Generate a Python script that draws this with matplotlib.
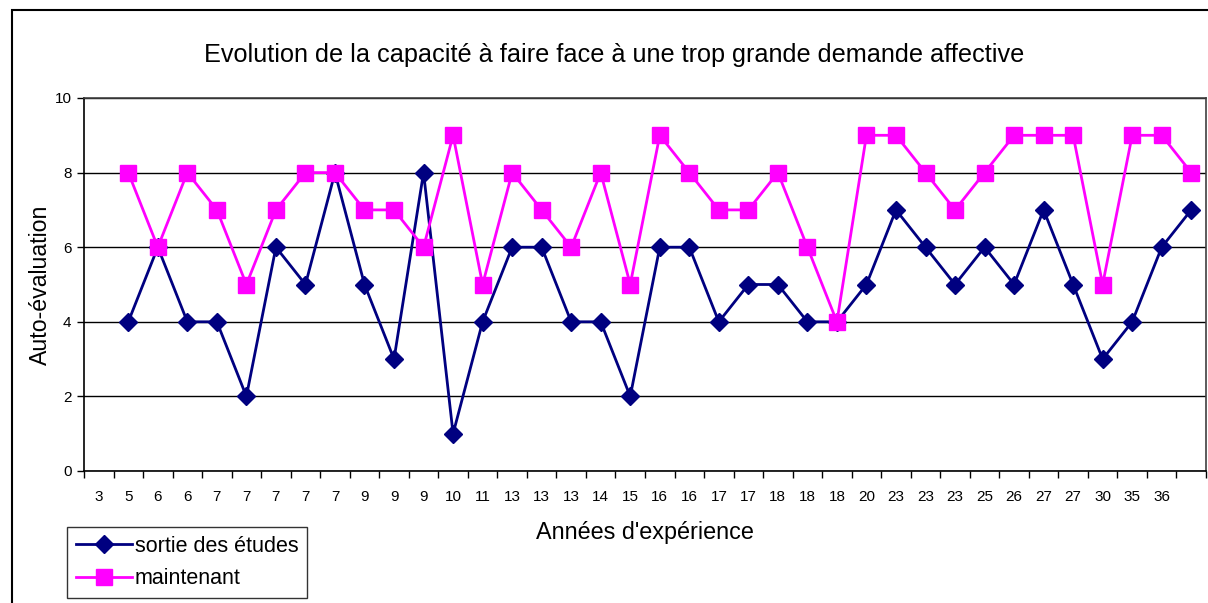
import matplotlib
matplotlib.use("Agg")
import matplotlib.pyplot as plt
import numpy as np
from matplotlib.patches import Rectangle

categories = ["3", "5", "6", "6", "7", "7", "7", "7", "7", "9", "9", "9", "10", "11",
              "13", "13", "13", "14", "15", "16", "16", "17", "17", "18", "18", "18",
              "20", "23", "23", "23", "25", "26", "27", "27", "30", "35", "36", ""]
sortie = [np.nan, 4, 6, 4, 4, 2, 6, 5, 8, 5, 3, 8, 1, 4, 6, 6, 4, 4, 2, 6, 6, 4, 5, 5,
          4, 4, 5, 7, 6, 5, 6, 5, 7, 5, 3, 4, 6, 7]
maintenant = [np.nan, 8, 6, 8, 7, 5, 7, 8, 8, 7, 7, 6, 9, 5, 8, 7, 6, 8, 5, 9, 8, 7, 7,
              8, 6, 4, 9, 9, 8, 7, 8, 9, 9, 9, 5, 9, 9, 8]

plt.rcParams['font.family'] = ['Liberation Sans', 'DejaVu Sans']

W, H = 1208, 603
fig = plt.figure(figsize=(W / 100, H / 100), dpi=100)
ax = fig.add_axes([84 / W, 1 - 471 / H, (1206 - 84) / W, (471 - 98) / H])

x = np.arange(len(categories))
ax.plot(x, sortie, color='#000080', lw=2, marker='D', markersize=9,
        markerfacecolor='#000080', markeredgecolor='#000080', label='sortie des études', zorder=3)
ax.plot(x, maintenant, color='#FF00FF', lw=2, marker='s', markersize=11,
        markerfacecolor='#FF00FF', markeredgecolor='#FF00FF', label='maintenant', zorder=3)

ax.set_xlim(-0.5, len(categories) - 0.5)
ax.set_ylim(0, 10)
ax.set_yticks(np.arange(0, 11, 2))
ax.yaxis.grid(True, color='black', lw=1)
ax.set_axisbelow(True)

ax.set_xticks(x)
ax.set_xticklabels(categories, fontsize=11)
ax.set_xticks(np.arange(-0.5, len(categories), 1), minor=True)
ax.tick_params(axis='x', which='major', length=0, pad=14)
ax.tick_params(axis='x', which='minor', length=5, width=1, direction='out')
ax.tick_params(axis='y', length=5, width=1, labelsize=11, pad=4)

for s in ['left', 'bottom']:
    ax.spines[s].set_color('black')
    ax.spines[s].set_linewidth(1.2)
for s in ['top', 'right']:
    ax.spines[s].set_color('#404040')
    ax.spines[s].set_linewidth(1.2)

ax.set_xlabel("Années d'expérience", fontsize=16.8, labelpad=12)
ax.set_ylabel("Auto-évaluation", fontsize=16.7, labelpad=2)
fig.text(614 / W, 1 - 55 / H, "Evolution de la capacité à faire face à une trop grande demande affective",
         ha='center', va='center', fontsize=18.2)

leg = ax.legend(loc='upper left', bbox_to_anchor=(67 / W, 1 - 527 / H), bbox_transform=fig.transFigure,
                fontsize=15.5, frameon=True, fancybox=False, edgecolor='black',
                handlelength=2.6, handletextpad=0.15, borderpad=0.4, labelspacing=0.55,
                borderaxespad=0)
leg.get_frame().set_linewidth(1)

fig.patches.append(Rectangle((12 / W, -0.1), 1.2, 1 - 10 / H + 0.1, fill=False,
                             transform=fig.transFigure, lw=1.5, edgecolor='black', figure=fig))

fig.savefig('out.png', dpi=100)
